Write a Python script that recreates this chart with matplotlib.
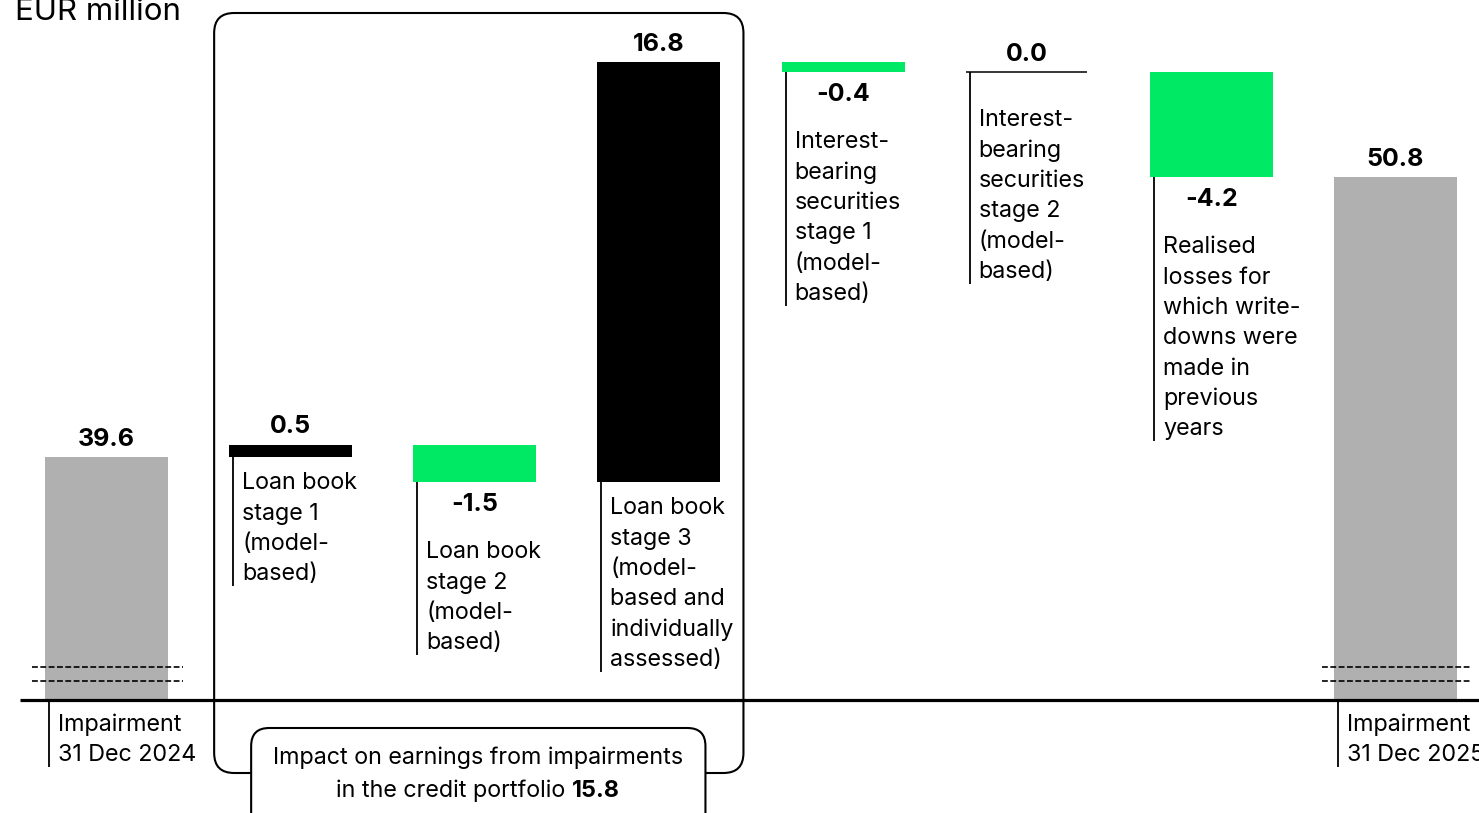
import matplotlib
matplotlib.use('Agg')
import matplotlib.pyplot as plt
from matplotlib.patches import FancyBboxPatch
from matplotlib.transforms import IdentityTransform

plt.rcParams['font.family'] = ['Inter', 'DejaVu Sans']

# -----------------------------------------------------------------------------
# data
# -----------------------------------------------------------------------------
labels = [
    'Impairment\n31 Dec 2024',
    'Loan book\nstage 1\n(model-\nbased)',
    'Loan book\nstage 2\n(model-\nbased)',
    'Loan book\nstage 3\n(model-\nbased and\nindividually\nassessed)',
    'Interest-\nbearing\nsecurities\nstage 1\n(model-\nbased)',
    'Interest-\nbearing\nsecurities\nstage 2\n(model-\nbased)',
    'Realised\nlosses for\nwhich write-\ndowns were\nmade in\nprevious\nyears',
    'Impairment\n31 Dec 2025',
]
start_value = 39.6
changes = [0.5, -1.5, 16.8, -0.4, 0.0, -4.2]
end_value = 50.8
impact_total = 15.8
unit_label = 'EUR million'
impact_label = 'Impact on earnings from impairments'
impact_label2 = 'in the credit portfolio '

GREY = '#b0b0b0'
GREEN = '#00e965'
BLACK = '#000000'

# -----------------------------------------------------------------------------
# layout (pixels at dpi 100)
# -----------------------------------------------------------------------------
W, H, DPI = 1479, 813, 100
PX_X = 184.15      # px per category
PX_Y = 25.0        # px per EUR million
X0_PX = 106.5      # centre of first bar
BASE_PX = 700      # baseline row
AXIS_FLOOR = 29.9  # value at the broken baseline
BAR_W = 123 / PX_X
LINE_PITCH = 30.3
FS = 16.8
FS_VAL = 18

fig = plt.figure(figsize=(W / DPI, H / DPI), dpi=DPI)
ax = fig.add_axes([0, 0, 1, 1])
ax.set_xlim(-X0_PX / PX_X, (W - X0_PX) / PX_X)
ax.set_ylim(AXIS_FLOOR - (H - BASE_PX) / PX_Y, AXIS_FLOOR + BASE_PX / PX_Y)
ax.axis('off')

# waterfall geometry
n = len(labels)
bottoms, tops, colors = [], [], []
bottoms.append(AXIS_FLOOR); tops.append(start_value); colors.append(GREY)
level = start_value
for c in changes:
    new = level + c
    bottoms.append(min(level, new)); tops.append(max(level, new))
    colors.append(BLACK if c > 0 else GREEN)
    level = new
bottoms.append(AXIS_FLOOR); tops.append(end_value); colors.append(GREY)
values = [start_value] + changes + [end_value]

xs = list(range(n))
heights = [t - b for t, b in zip(tops, bottoms)]
ax.bar(xs, heights, bottom=bottoms, width=BAR_W, color=colors, linewidth=0, zorder=2)

# zero change drawn as a thin line
for i, v in enumerate(values):
    if 0 < i < n - 1 and v == 0:
        ax.hlines(tops[i], i - BAR_W / 2, i + BAR_W / 2 - 0.01, color=BLACK, lw=1.1, zorder=3)

# axis break on start/end bars
for i in (0, n - 1):
    for py in (667, 681):
        yv = AXIS_FLOOR + (BASE_PX - py) / PX_Y
        ax.plot([i - 74 / PX_X, i + 76 / PX_X], [yv, yv], color=BLACK, lw=1.2,
                dashes=(3.5, 1.5), zorder=4)

# baseline
ax.plot([(20 - X0_PX) / PX_X, (W - X0_PX) / PX_X], [AXIS_FLOOR, AXIS_FLOOR],
        color=BLACK, lw=2.3, zorder=5, solid_capstyle='butt')

# value labels, leader lines and category text
for i, v in enumerate(values):
    left = i - BAR_W / 2
    is_total = i in (0, n - 1)
    below = (not is_total) and v < 0
    txt = f'{v:.1f}'
    if below:
        ax.annotate(txt, (i, bottoms[i]), xytext=(0, -22), textcoords='offset pixels',
                    ha='center', va='center', fontsize=FS_VAL, fontweight='bold')
        first = 70
    else:
        ax.annotate(txt, (i, tops[i]), xytext=(0, 18), textcoords='offset pixels',
                    ha='center', va='center', fontsize=FS_VAL, fontweight='bold')
        first = 25 if is_total else 26
        if v == 0 and not is_total:
            first = 48
    anchor_y = AXIS_FLOOR if is_total else bottoms[i]
    if v == 0 and not is_total:
        anchor_y = tops[i]
    lines = labels[i].split('\n')
    for k, ln in enumerate(lines):
        ax.annotate(ln, (left, anchor_y), xytext=(13, -(first + k * LINE_PITCH)),
                    textcoords='offset pixels', ha='left', va='center', fontsize=FS)
    end_px = first + (len(lines) - 1) * LINE_PITCH + 12
    ax.plot([left + 4 / PX_X] * 2, [anchor_y, anchor_y - end_px / PX_Y],
            color=BLACK, lw=1.3, zorder=3, solid_capstyle='butt')

# unit label
ax.text(15 / W, 1 - 20 / H, unit_label, transform=fig.transFigure,
        ha='left', va='baseline', fontsize=22.5)

# bracket box around the credit portfolio items
to_disp = ax.transData.transform
bx0 = to_disp((1 - BAR_W / 2, 0))[0] - 15
bx1 = to_disp((3 + BAR_W / 2, 0))[0] + 23
big = FancyBboxPatch((bx0 + 20, 40 + 20), bx1 - bx0 - 40, (H - 13) - 40 - 40,
                     boxstyle='round,pad=20', transform=IdentityTransform(),
                     fc='none', ec=BLACK, lw=1.5, zorder=1)
ax.add_artist(big)

# impact label box
sx0, sx1 = bx0 + 37, bx1 - 38
small = FancyBboxPatch((sx0 + 18, -40), sx1 - sx0 - 36, (H - 728) + 40 - 18,
                       boxstyle='round,pad=18', transform=IdentityTransform(),
                       fc='white', ec=BLACK, lw=1.5, zorder=6)
ax.add_artist(small)

cx = (sx0 + sx1) / 2
ax.text(cx, H - 758, impact_label, transform=IdentityTransform(),
        ha='center', va='center', fontsize=FS, zorder=7)
renderer = fig.canvas.get_renderer()
t1 = ax.text(0, H - 791, impact_label2, transform=IdentityTransform(),
             ha='left', va='center', fontsize=FS, zorder=7)
t2 = ax.text(0, H - 791, f'{impact_total:.1f}', transform=IdentityTransform(),
             ha='left', va='center', fontsize=FS, fontweight='bold', zorder=7)
w1 = t1.get_window_extent(renderer).width
w2 = t2.get_window_extent(renderer).width
xstart = cx - (w1 + w2) / 2
t1.set_x(xstart)
t2.set_x(xstart + w1)

fig.savefig('out.png', dpi=DPI)
